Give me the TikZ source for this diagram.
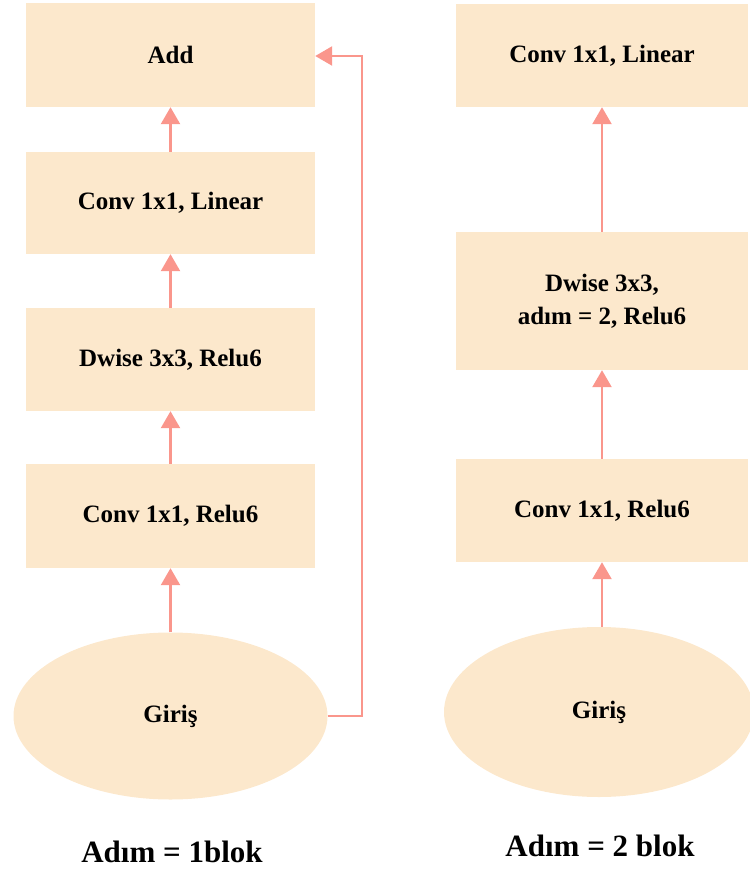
\documentclass[tikz,border=0pt]{standalone}
\usepackage{fontspec}
\setmainfont{Liberation Serif}
\usetikzlibrary{arrows.meta,shapes.geometric}
\definecolor{boxfill}{HTML}{FCE8CC}
\definecolor{arr}{HTML}{FA968C}
\begin{document}
\begin{tikzpicture}[x=1pt,y=-1pt,
  blk/.style={fill=boxfill,draw=none,inner sep=0pt,align=center,font=\bfseries\fontsize{25}{33}\selectfont},
  ell/.style={ellipse,fill=boxfill,draw=none,inner sep=0pt,font=\bfseries\fontsize{25}{33}\selectfont},
  con/.style={draw=arr,line width=2.4pt,-{Triangle[width=19pt,length=17pt]},color=arr},
  captext/.style={font=\bfseries\fontsize{31}{36}\selectfont}]
\useasboundingbox (0,0) rectangle (749,872);
% left column
\node[blk,minimum width=289pt,minimum height=104pt] (addb) at (170.5,55) {Add};
\node[blk,minimum width=289pt,minimum height=102pt] (l2) at (170.5,203) {Conv 1x1, Linear};
\node[blk,minimum width=289pt,minimum height=103pt] (l3) at (170.5,359.5) {Dwise 3x3, Relu6};
\node[blk,minimum width=289pt,minimum height=104pt] (l4) at (170.5,516) {Conv 1x1, Relu6};
\node[ell,minimum width=314pt,minimum height=167pt] (lin) at (170.5,716) {Giriş};
\draw[con] (lin.north) -- (l4.south);
\draw[con] (l4.north) -- (l3.south);
\draw[con] (l3.north) -- (l2.south);
\draw[con] (l2.north) -- (addb.south);
\coordinate (c1) at (362,716);
\coordinate (c2) at (362,56);
\draw[con] (lin.east) -- (c1) -- (c2) -- (addb.east |- c2);
\node[captext] (capl) at (172,852) {Adım = 1blok};
% right column
\node[blk,minimum width=292pt,minimum height=103pt] (r1) at (602,55.5) {Conv 1x1, Linear};
\node[blk,minimum width=292pt,minimum height=138pt] (r2) at (602,301) {Dwise 3x3,\\adım = 2, Relu6};
\node[blk,minimum width=292pt,minimum height=103pt] (r3) at (602,510.5) {Conv 1x1, Relu6};
\node[ell,minimum width=310pt,minimum height=170pt] (rin) at (599,712) {Giriş};
\draw[con] (rin.north -| r3.south) -- (r3.south);
\draw[con] (r3.north) -- (r2.south);
\draw[con] (r2.north) -- (r1.south);
\node[captext] (capr) at (600,846) {Adım = 2 blok};
\end{tikzpicture}
\end{document}
